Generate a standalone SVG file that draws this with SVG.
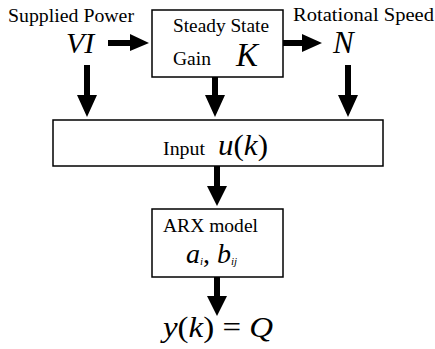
<svg xmlns="http://www.w3.org/2000/svg" width="435" height="349" viewBox="0 0 435 349">
<style>
.box{fill:#fff;stroke:#000;stroke-width:1.5}
.arr{fill:#000}
</style>
<rect width="435" height="349" fill="#fff"/>
<g id="supplied-power">
<text style="font-family:'Liberation Serif',serif" x="8" y="22" font-size="18" textLength="126" lengthAdjust="spacingAndGlyphs">Supplied Power</text>
<text style="font-family:'Liberation Serif',serif;font-style:italic" x="66" y="53" font-size="30">VI</text>
</g>
<g id="rotational-speed">
<text style="font-family:'Liberation Serif',serif" x="293" y="21" font-size="18" textLength="141" lengthAdjust="spacingAndGlyphs">Rotational Speed</text>
<text style="font-family:'Liberation Serif',serif;font-style:italic" x="333" y="53" font-size="31">N</text>
</g>
<g id="gain">
<rect class="box" x="152" y="10" width="131" height="67"/>
<text style="font-family:'Liberation Serif',serif" x="173" y="32" font-size="18" textLength="96" lengthAdjust="spacingAndGlyphs">Steady State</text>
<text style="font-family:'Liberation Serif',serif" x="173" y="65" font-size="18" textLength="38" lengthAdjust="spacingAndGlyphs">Gain</text>
<text style="font-family:'Liberation Serif',serif;font-style:italic" x="236" y="66" font-size="33">K</text>
</g>
<g id="input">
<rect class="box" x="53" y="120" width="330" height="46"/>
<text style="font-family:'Liberation Serif',serif" x="163" y="155" font-size="18" textLength="42" lengthAdjust="spacingAndGlyphs">Input</text>
<text style="font-family:'Liberation Serif',serif;font-style:italic" font-size="30" x="218" y="155" textLength="50" lengthAdjust="spacingAndGlyphs">u<tspan style="font-style:normal">(</tspan>k<tspan style="font-style:normal">)</tspan></text>
</g>
<g id="arx">
<rect class="box" x="152" y="209" width="131" height="68"/>
<text style="font-family:'Liberation Serif',serif" x="163" y="232" font-size="18" textLength="95" lengthAdjust="spacingAndGlyphs">ARX model</text>
<text style="font-family:'Liberation Serif',serif;font-style:italic" font-size="28" x="186" y="263">a<tspan font-size="11" dy="2">i</tspan><tspan style="font-style:normal" dy="-2">, </tspan>b<tspan font-size="11" dy="2">ij</tspan></text>
</g>
<g id="output">
<text style="font-family:'Liberation Serif',serif;font-style:italic" font-size="29" x="163" y="337" textLength="110" lengthAdjust="spacingAndGlyphs">y<tspan style="font-style:normal">(</tspan>k<tspan style="font-style:normal">) = </tspan>Q</text>
</g>
<g id="connectors">
<path class="arr" d="M108,40H130V34L149,43L130,51V46H108Z"/>
<path class="arr" d="M283,40H302V34L322,43L302,52V46H283Z"/>
<path class="arr" d="M84,65H90V95H97L87,117L77,95H84Z"/>
<path class="arr" d="M212,77H218V95H225L215,117L205,95H212Z"/>
<path class="arr" d="M345,65H351V95H358L348,117L338,95H345Z"/>
<path class="arr" d="M214,166H220V186H227L217,206L207,186H214Z"/>
<path class="arr" d="M214,277H220V296H227L217,316L207,296H214Z"/>
</g>
</svg>
